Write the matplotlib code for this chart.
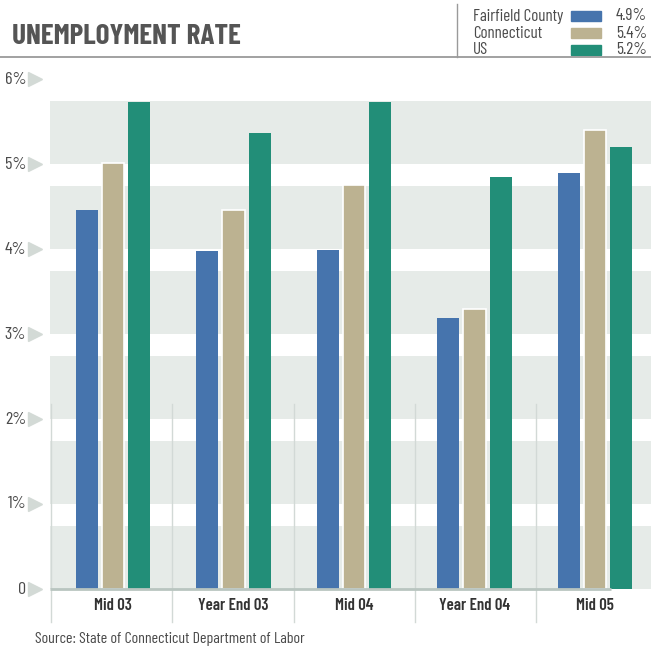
import matplotlib
matplotlib.use("Agg")
import matplotlib.pyplot as plt
from matplotlib.transforms import blended_transform_factory

# ============================== Data

PERIODS = ["Mid 03", "Year End 03", "Mid 04", "Year End 04", "Mid 05"]
FAIRFIELD = [4.46, 3.98, 3.99, 3.19, 4.9]
CONNECTICUT = [5.01, 4.46, 4.75, 3.29, 5.4]
US = [5.73, 5.36, 5.73, 4.85, 5.2]

SERIES_NAMES = ["Fairfield County", "Connecticut", "US"]
LATEST = ["4.9%", "5.4%", "5.2%"]

Y_TICKS = [0, 1, 2, 3, 4, 5, 6]
Y_LABELS = ["0", "1%", "2%", "3%", "4%", "5%", "6%"]

# ============================== Style

COLORS = ["#4674ad", "#bcb291", "#228e78"]
BAND = "#e6ebe8"
TEXT = "#4a4a4a"
FONT = ["Barlow Condensed", "DejaVu Sans"]

W, H = 651, 649
plt.rcParams["font.family"] = FONT

fig = plt.figure(figsize=(W / 100, H / 100), dpi=100)
fig.patch.set_facecolor("white")

# plot area: 0 at y=589px, 85px per percent
ax = fig.add_axes([50 / W, (H - 589) / H, 601 / W, 510 / H])
ax.set_xlim(-0.523, 4.465)
ax.set_ylim(0, 6)
ax.axis("off")

# alternating bands
for k in range(6):
    ax.axhspan(k, k + 0.74, color=BAND, lw=0, zorder=0)

bw = 0.183
off = 0.218
for j, vals in enumerate([FAIRFIELD, CONNECTICUT, US]):
    xs = [i + (j - 1) * off for i in range(len(PERIODS))]
    ax.bar(xs, vals, width=bw, color=COLORS[j], zorder=2,
           edgecolor="white" if j == 1 else COLORS[j], linewidth=1.2 if j == 1 else 0)

# baseline
ax.plot([-0.523, 4.133], [0, 0], color="#b9c5c0", lw=2.0, zorder=3,
        solid_capstyle="butt", clip_on=False)

# group separators
for x in [-0.515, 0.49, 1.5, 2.505, 3.51]:
    ax.plot([x, x], [2.18, -0.39], color="#d2d9d6", lw=1.0, zorder=1, clip_on=False)

# category labels
for i, name in enumerate(PERIODS):
    ax.text(i, -0.2, name, ha="center", va="center", fontsize=12,
            fontweight=600, color="#333333")

# y ticks: labels + triangle markers
tr = blended_transform_factory(fig.transFigure, ax.transData)
for v, lab in zip(Y_TICKS, Y_LABELS):
    ax.text(26 / W, v, lab, transform=tr, ha="right", va="center",
            fontsize=13, color=TEXT, clip_on=False)
    ax.plot([35 / W], [v], marker=">", markersize=10, color="#d3dad6",
            transform=tr, clip_on=False, zorder=1)

# title block
fig.text(12 / W, 1 - 37 / H, "UNEMPLOYMENT RATE", ha="left", va="center",
         fontsize=21, fontweight="bold", color="#555555")
fig.add_artist(plt.Line2D([0, 1], [1 - 57 / H, 1 - 57 / H], color="#9a9a9a",
                          lw=1.3, transform=fig.transFigure))
fig.add_artist(plt.Line2D([457 / W, 457 / W], [1 - 4 / H, 1 - 57 / H],
                          color="#9a9a9a", lw=1.0, transform=fig.transFigure))

# legend
for r, (name, val, col) in enumerate(zip(SERIES_NAMES, LATEST, COLORS)):
    yc = 1 - (16 + r * 17) / H
    fig.text(473 / W, yc, name, ha="left", va="center", fontsize=12.2, color=TEXT)
    fig.patches.append(plt.Rectangle((571 / W, yc - 5 / H), 30 / W, 10 / H,
                                     color=col, transform=fig.transFigure, figure=fig))
    fig.text(647 / W, yc, val, ha="right", va="center", fontsize=12.5, color=TEXT)

fig.text(35 / W, 1 - 639 / H, "Source: State of Connecticut Department of Labor",
         ha="left", va="center", fontsize=11.5, color=TEXT)

fig.savefig("out.png", dpi=100)
